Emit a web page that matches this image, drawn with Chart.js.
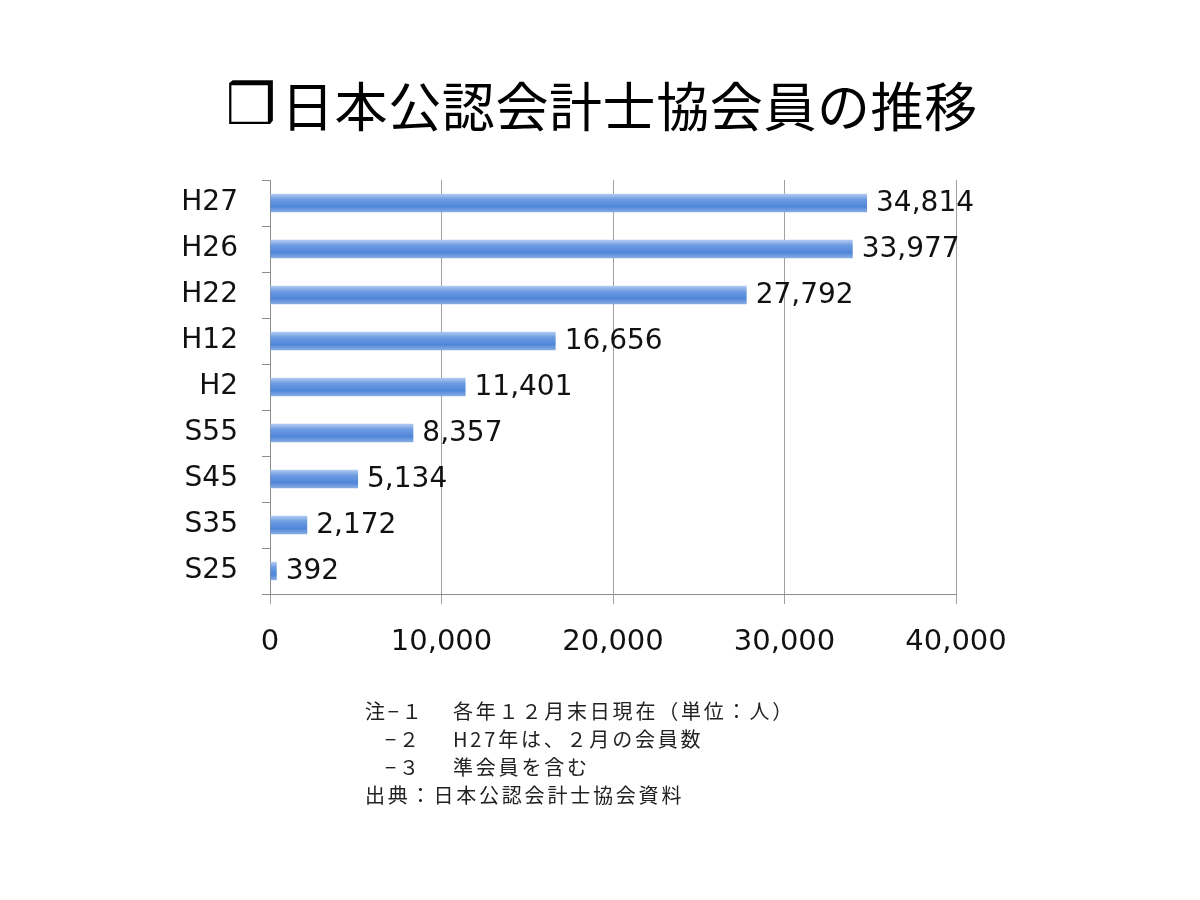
<!DOCTYPE html>
<html>
<head>
<meta charset="utf-8">
<script src="https://cdn.jsdelivr.net/npm/chart.js@4/dist/chart.umd.min.js"></script>
<style>
  html, body { margin: 0; padding: 0; background: #fff; }
  #wrap { position: relative; width: 1200px; height: 900px; overflow: hidden; }
  #c { position: absolute; left: 0; top: 0; }
  .title { position: absolute; left: 281px; top: 71px; font-family: "Noto Sans CJK JP", sans-serif; font-size: 53px; line-height: 66px; color: #000; white-space: nowrap; letter-spacing: 0.6px; }
  .box { position: absolute; left: 226px; top: 72px; font-family: "DejaVu Sans", sans-serif; font-weight: bold; font-size: 56px; line-height: 66px; color: #000; }
  .note { position: absolute; font-family: "Noto Sans CJK JP", sans-serif; font-size: 20px; line-height: 28px; color: #222; white-space: nowrap; letter-spacing: 2.8px; }
</style>
</head>
<body>
<div id="wrap">
  <canvas id="c" width="1200" height="900"></canvas>
  <div class="box">❒</div>
  <div class="title">日本公認会計士協会員の推移</div>
  <div class="note" style="left:365px;top:697px;">注−１</div>
  <div class="note" style="left:453px;top:697px;">各年１２月末日現在（単位：人）</div>
  <div class="note" style="left:385px;top:725px;">−２</div>
  <div class="note" style="left:453px;top:725px;">H27年は、２月の会員数</div>
  <div class="note" style="left:385px;top:753px;">−３</div>
  <div class="note" style="left:453px;top:753px;">準会員を含む</div>
  <div class="note" style="left:365px;top:781px;">出典：日本公認会計士協会資料</div>
</div>
<script>
const categories = ["H27", "H26", "H22", "H12", "H2", "S55", "S45", "S35", "S25"];
const members = [34814, 33977, 27792, 16656, 11401, 8357, 5134, 2172, 392];
const xTicks = [0, 10000, 20000, 30000, 40000];

const FONT = "'DejaVu Sans', Verdana, sans-serif";

const gradientBars = {
  id: 'gradientBars',
  beforeDatasetsDraw(chart) {
    const ctx = chart.ctx;
    chart.getDatasetMeta(0).data.forEach(el => {
      const top = el.y - el.height / 2, bot = el.y + el.height / 2;
      const g = ctx.createLinearGradient(0, top, 0, bot);
      g.addColorStop(0, '#b4ccf2');
      g.addColorStop(0.3, '#6e9ce2');
      g.addColorStop(0.7, '#4f86d8');
      g.addColorStop(1, '#8aaee4');
      el.options = Object.assign({}, el.options, { backgroundColor: g });
    });
  }
};

const valueLabels = {
  id: 'valueLabels',
  afterDatasetsDraw(chart) {
    const ctx = chart.ctx;
    ctx.save();
    ctx.font = "28px " + FONT;
    ctx.fillStyle = '#111';
    ctx.textBaseline = 'middle';
    ctx.textAlign = 'left';
    chart.getDatasetMeta(0).data.forEach((el, i) => {
      ctx.fillText(members[i].toLocaleString('en-US'), el.x + 9, el.y + 1);
    });
    ctx.restore();
  }
};

new Chart(document.getElementById('c'), {
  type: 'bar',
  data: {
    labels: categories,
    datasets: [{
      data: members,
      backgroundColor: () => '#5b8fdc',
      borderWidth: 0,
      barPercentage: 0.4,
      categoryPercentage: 1.0
    }]
  },
  options: {
    indexAxis: 'y',
    responsive: false,
    animation: false,
    layout: { padding: { left: 0, top: 180, right: 244, bottom: 0 } },
    plugins: { legend: { display: false }, tooltip: { enabled: false }, title: { display: false } },
    scales: {
      y: {
        afterFit(s) { s.width = 270; },
        grid: { drawOnChartArea: false, drawTicks: true, tickLength: 8, color: '#8c8c8c', offset: true },
        border: { color: '#8c8c8c', width: 1 },
        ticks: { color: '#111', font: { family: FONT, size: 28 }, padding: 24 }
      },
      x: {
        min: 0, max: 40000,
        afterFit(s) { s.height = 900 - 180 - 414; },
        afterBuildTicks(s) { s.ticks = xTicks.map(v => ({ value: v })); },
        grid: { color: '#a0a0a0', tickLength: 10, lineWidth: 1 },
        border: { color: '#8c8c8c', width: 1 },
        ticks: {
          color: '#111', font: { family: FONT, size: 29 }, padding: 21,
          callback: v => Number(v).toLocaleString('en-US')
        }
      }
    }
  },
  plugins: [gradientBars, valueLabels]
});
</script>
</body>
</html>
